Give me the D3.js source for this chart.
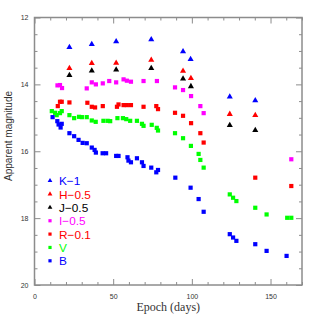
<!DOCTYPE html>
<html>
<head>
<meta charset="utf-8">
<script src="https://cdn.jsdelivr.net/npm/d3@7"></script>
<style>
  body { margin: 0; background: #fff; }
  svg { display: block; }
</style>
</head>
<body>
<div id="chart"></div>
<script>
const width = 319, height = 319;

// light curves: [epoch (days), apparent magnitude]
const bandK = [[22.2,12.89],[36.4,12.80],[51.9,12.72],[74.2,12.66],[94.4,13.02],[99.2,13.25],[124.1,14.37],[140.3,14.48]];
const bandH = [[22.2,13.52],[36.4,13.37],[51.9,13.36],[74.2,13.27],[94.4,13.60],[99.4,13.82],[124.1,14.89],[140.3,14.92]];
const bandJ = [[22.2,13.73],[36.4,13.59],[51.9,13.56],[74.2,13.52],[94.4,13.83],[99.4,14.06],[124.1,15.22],[140.3,15.37]];
const bandI = [[14.6,14.03],[16.2,14.02],[17.5,14.11],[33.2,14.12],[36.4,13.94],[39.0,14.00],[43.4,13.97],[47.5,13.90],[51.9,13.94],
  [56.6,13.85],[58.7,13.89],[61.3,13.92],[69.3,13.90],[77.8,13.90],[89.3,14.09],[94.4,14.17],[99.5,14.35],[105.4,14.65],[107.5,14.86],[163.2,16.24]];
const bandR = [[14.8,14.65],[16.2,14.52],[17.3,14.52],[22.2,14.54],[33.6,14.55],[36.4,14.67],[38.5,14.69],[43.4,14.65],[52.4,14.67],
  [53.4,14.60],[56.6,14.62],[58.7,14.62],[61.3,14.62],[69.3,14.67],[77.4,14.65],[78.5,14.74],[89.3,14.85],[94.4,14.94],[99.5,15.16],
  [105.4,15.46],[107.5,15.74],[140.3,16.79],[163.2,17.04]];
const bandV = [[11.0,14.80],[13.1,14.85],[14.1,14.92],[16.2,14.86],[17.3,14.80],[22.2,14.92],[25.2,15.01],[28.3,14.97],[30.1,14.98],
  [33.2,14.98],[36.4,15.08],[38.9,15.12],[43.8,15.09],[46.5,15.09],[48.1,15.10],[52.7,15.01],[56.2,15.01],[58.3,15.04],[60.8,15.09],
  [65.1,15.09],[68.3,15.18],[69.3,15.24],[74.5,15.21],[77.7,15.30],[78.5,15.38],[89.3,15.46],[94.4,15.61],[99.4,15.84],[104.3,16.08],
  [105.4,16.26],[107.5,16.49],[124.1,17.29],[126.2,17.39],[128.3,17.49],[140.3,17.69],[147.5,17.89],[160.6,17.99],[163.2,17.99]];
const bandB = [[11.5,14.98],[14.5,15.10],[15.3,15.20],[16.6,15.29],[17.3,15.18],[22.2,15.46],[25.2,15.55],[28.0,15.66],[30.6,15.75],
  [33.2,15.76],[36.4,15.89],[38.2,15.96],[39.0,16.04],[43.3,16.06],[45.5,16.06],[51.9,16.14],[53.4,16.14],[59.1,16.18],[59.7,16.28],
  [61.3,16.33],[65.1,16.21],[68.3,16.33],[69.3,16.44],[74.2,16.49],[77.4,16.63],[78.5,16.56],[89.5,16.79],[99.2,17.09],[104.3,17.43],
  [107.5,17.81],[124.1,18.48],[126.2,18.58],[128.3,18.68],[140.3,18.78],[147.5,18.98],[160.2,19.13]];

const series = [
  { label: "K\u22121",   data: bandK, color: "#0000ff", shape: "triangle" },
  { label: "H\u22120.5", data: bandH, color: "#ff0000", shape: "triangle" },
  { label: "J\u22120.5", data: bandJ, color: "#000000", shape: "triangle" },
  { label: "I\u22120.5", data: bandI, color: "#ff00ff", shape: "square" },
  { label: "R\u22120.1", data: bandR, color: "#ff0000", shape: "square" },
  { label: "V",          data: bandV, color: "#00ff00", shape: "square" },
  { label: "B",          data: bandB, color: "#0000ff", shape: "square" }
];

const xTicks = [0, 50, 100, 150];
const yTicks = [12, 14, 16, 18, 20];

const margin = { left: 34.5, right: 302, top: 17.5, bottom: 285 };

const xScale = d3.scaleLinear().domain([0, 170]).range([margin.left, margin.right]);
const yScale = d3.scaleLinear().domain([12, 20]).range([margin.top, margin.bottom]);

const svg = d3.select("#chart").append("svg")
  .attr("width", width)
  .attr("height", height);

const frameColor = "#8c8c8c";

// inward ticks on all four sides
const axisFrame = (g, axis) => g.call(axis)
  .call(g => g.select(".domain").remove())
  .call(g => g.selectAll(".tick line").attr("stroke", frameColor).attr("stroke-width", 1));

const minorX = d3.range(0, 171, 10).filter(v => v % 50 !== 0);
const minorY = d3.range(12, 20.01, 0.5).filter(v => v % 2 !== 0);

svg.append("g").attr("transform", `translate(0,${margin.bottom})`)
  .call(g => axisFrame(g, d3.axisBottom(xScale).tickValues(xTicks).tickSize(-6).tickPadding(9).tickFormat(d3.format("d"))));
svg.append("g").attr("transform", `translate(0,${margin.bottom})`)
  .call(g => axisFrame(g, d3.axisBottom(xScale).tickValues(minorX).tickSize(-3).tickFormat("")));
svg.append("g").attr("transform", `translate(0,${margin.top})`)
  .call(g => axisFrame(g, d3.axisTop(xScale).tickValues(xTicks).tickSize(-6).tickFormat("")));
svg.append("g").attr("transform", `translate(0,${margin.top})`)
  .call(g => axisFrame(g, d3.axisTop(xScale).tickValues(minorX).tickSize(-3).tickFormat("")));

svg.append("g").attr("transform", `translate(${margin.left},0)`)
  .call(g => axisFrame(g, d3.axisLeft(yScale).tickValues(yTicks).tickSize(-6).tickPadding(6).tickFormat(d3.format("d"))));
svg.append("g").attr("transform", `translate(${margin.left},0)`)
  .call(g => axisFrame(g, d3.axisLeft(yScale).tickValues(minorY).tickSize(-3).tickFormat("")));
svg.append("g").attr("transform", `translate(${margin.right},0)`)
  .call(g => axisFrame(g, d3.axisRight(yScale).tickValues(yTicks).tickSize(-6).tickFormat("")));
svg.append("g").attr("transform", `translate(${margin.right},0)`)
  .call(g => axisFrame(g, d3.axisRight(yScale).tickValues(minorY).tickSize(-3).tickFormat("")));

svg.selectAll(".tick text")
  .attr("font-family", "Liberation Sans, Arial, sans-serif")
  .attr("font-size", 7)
  .attr("fill", "#333");

svg.append("rect")
  .attr("x", margin.left).attr("y", margin.top)
  .attr("width", margin.right - margin.left).attr("height", margin.bottom - margin.top)
  .attr("fill", "none")
  .attr("stroke", frameColor)
  .attr("stroke-width", 1.5);

const triangle = d3.symbol().type(d3.symbolTriangle).size(16);
const sq = 4.2;

const plot = svg.append("g");

series.forEach(s => {
  if (s.shape === "triangle") {
    plot.selectAll(null)
      .data(s.data)
      .join("path")
        .attr("d", triangle)
        .attr("transform", d => `translate(${xScale(d[0])},${yScale(d[1])})`)
        .attr("fill", s.color);
  } else {
    plot.selectAll(null)
      .data(s.data)
      .join("rect")
        .attr("x", d => xScale(d[0]) - sq / 2)
        .attr("y", d => yScale(d[1]) - sq / 2)
        .attr("width", sq)
        .attr("height", sq)
        .attr("fill", s.color);
  }
});

// legend
const legend = svg.append("g").attr("transform", "translate(50,180.7)");
const row = 13.35;

series.forEach((s, i) => {
  const g = legend.append("g").attr("transform", `translate(0,${i * row})`);
  if (s.shape === "triangle") {
    g.append("path").attr("d", d3.symbol().type(d3.symbolTriangle).size(10)).attr("fill", s.color);
  } else {
    g.append("rect").attr("x", -1.6).attr("y", -1.6).attr("width", 3.2).attr("height", 3.2).attr("fill", s.color);
  }
  g.append("text")
    .attr("x", 9)
    .attr("y", 4.5)
    .attr("font-family", "Liberation Sans, Arial, sans-serif")
    .attr("font-size", 11.8)
    .attr("fill", s.color)
    .text(s.label);
});

svg.append("text")
  .attr("transform", `translate(12,136) rotate(-90)`)
  .attr("text-anchor", "middle")
  .attr("font-family", "Liberation Sans, Arial, sans-serif")
  .attr("font-size", 10)
  .attr("fill", "#333")
  .text("Apparent magnitude");

svg.append("text")
  .attr("x", (margin.left + margin.right) / 2)
  .attr("y", 311)
  .attr("text-anchor", "middle")
  .attr("font-family", "Liberation Serif, serif")
  .attr("font-size", 12)
  .attr("fill", "#333")
  .text("Epoch (days)");
</script>
</body>
</html>
